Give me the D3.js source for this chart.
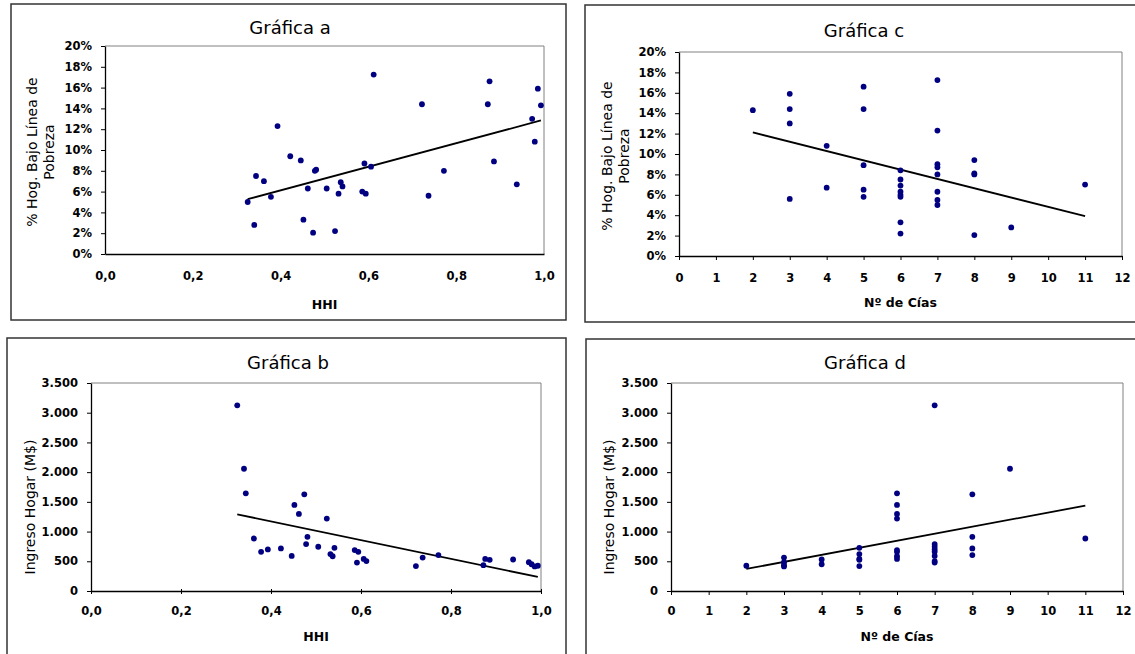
<!DOCTYPE html>
<html>
<head>
<meta charset="utf-8">
<script src="https://cdn.jsdelivr.net/npm/d3@7"></script>
<style>
  body { margin: 0; background: #fff; }
  svg text { font-family: "DejaVu Sans", Verdana, sans-serif; fill: #000; }
</style>
</head>
<body>
<svg id="chart" width="1135" height="654"></svg>
<script>
// one entry per observation (34 comunas)
var hhi = [0.325, 0.340, 0.344, 0.362, 0.378, 0.393, 0.422, 0.446, 0.452, 0.462, 0.474, 0.478,
  0.481, 0.505, 0.524, 0.532, 0.537, 0.541, 0.586, 0.591, 0.594, 0.606, 0.612, 0.722, 0.737,
  0.772, 0.872, 0.876, 0.886, 0.938, 0.973, 0.979, 0.986, 0.993];
var cias = [7, 9, 6, 11, 7, 7, 8, 7, 6, 6, 8, 7, 8, 7, 6, 5, 6, 5, 6, 7, 6, 6, 7, 5, 3, 8, 3, 5, 5,
  4, 3, 4, 3, 2];
var pobreza = [5.0, 2.8, 7.5, 7.0, 5.5, 12.3, 9.4, 9.0, 3.3, 6.3, 2.05, 8.0, 8.1, 6.3, 2.2, 5.8,
  6.9, 6.5, 6.0, 8.7, 5.8, 8.4, 17.25, 14.4, 5.6, 8.0, 14.4, 16.6, 8.9, 6.7, 13.0, 10.8, 15.9, 14.3];
var ingreso = [3125, 2057, 1644, 883, 660, 699, 716, 590, 1448, 1297, 1627, 790, 911, 745, 1219,
  621, 585, 727, 688, 478, 660, 540, 503, 420, 562, 605, 435, 540, 525, 530, 485, 450, 414, 425];

var hhiTicks = [0, 0.2, 0.4, 0.6, 0.8, 1.0];
var ciasTicks = d3.range(0, 13);
var pobTicks = [0, 2, 4, 6, 8, 10, 12, 14, 16, 18, 20];
var ingTicks = [0, 500, 1000, 1500, 2000, 2500, 3000, 3500];

var es = d3.formatLocale({decimal: ",", thousands: ".", grouping: [3], currency: ["$", ""]});
var fmtHHI = es.format(".1f");
var fmtIng = es.format(",");
var fmtPct = (d) => d + "%";

var svg = d3.select("#chart");

function fitLine(xs, ys) {
  var mx = d3.mean(xs), my = d3.mean(ys);
  var sxy = d3.sum(xs, (x, i) => (x - mx) * (ys[i] - my));
  var sxx = d3.sum(xs, (x) => (x - mx) * (x - mx));
  var b = sxy / sxx, a = my - b * mx;
  var x0 = d3.min(xs), x1 = d3.max(xs);
  return [[x0, a + b * x0], [x1, a + b * x1]];
}

function drawPanel(p) {
  var g = svg.append("g");

  g.append("rect")
    .attr("x", p.frame[0]).attr("y", p.frame[1])
    .attr("width", p.frame[2]).attr("height", p.frame[3])
    .attr("fill", "#fff").attr("stroke", "#333").attr("stroke-width", 1.5);

  var x = d3.scaleLinear().domain(p.xDomain).range([p.left, p.right]);
  var y = d3.scaleLinear().domain(p.yDomain).range([p.bottom, p.top]);

  // plot area border (top + right in grey)
  g.append("path")
    .attr("d", `M${p.left},${p.top}H${p.right}V${p.bottom}`)
    .attr("fill", "none").attr("stroke", "#808080").attr("stroke-width", 1);

  var xAxis = d3.axisBottom(x).tickValues(p.xTicks).tickFormat(p.xFmt)
    .tickSizeInner(p.xTickSize).tickSizeOuter(0).tickPadding(p.xPad);
  var gx = g.append("g").attr("transform", `translate(0,${p.bottom})`).call(xAxis);
  if (p.crossTicks) gx.selectAll(".tick line").attr("y1", -2);

  var yAxis = d3.axisLeft(y).tickValues(p.yTicks).tickFormat(p.yFmt)
    .tickSizeInner(4).tickSizeOuter(0).tickPadding(9);
  var gy = g.append("g").attr("transform", `translate(${p.left},0)`).call(yAxis);

  [gx, gy].forEach((a) => {
    a.select(".domain").attr("stroke", "#000").attr("stroke-width", 1.3);
    a.selectAll(".tick line").attr("stroke", "#000");
    a.selectAll(".tick text").attr("font-size", 11.5).attr("font-weight", "bold")
      .attr("font-family", "DejaVu Sans");
  });

  g.append("text")
    .attr("x", p.titleX).attr("y", p.titleY)
    .attr("text-anchor", "middle").attr("font-size", 18)
    .text(p.title);

  g.append("text")
    .attr("x", (p.left + p.right) / 2).attr("y", p.xLabelY)
    .attr("text-anchor", "middle").attr("font-size", 12.5).attr("font-weight", "bold")
    .text(p.xLabel);

  var yl = g.append("text")
    .attr("transform", `translate(${p.yLabelX},${p.yLabelY}) rotate(-90)`)
    .attr("text-anchor", "middle").attr("font-size", 14);
  p.yLabel.forEach((line, i) => {
    yl.append("tspan").attr("x", 0).attr("dy", i ? 17 : 0).text(line);
  });

  var line = fitLine(p.xs, p.ys);
  g.append("path")
    .attr("d", d3.line().x((d) => x(d[0])).y((d) => y(d[1]))(line))
    .attr("stroke", "#000").attr("stroke-width", 1.8).attr("fill", "none");

  g.selectAll("circle")
    .data(p.xs.map((v, i) => [v, p.ys[i]]))
    .join("circle")
    .attr("cx", (d) => x(d[0]))
    .attr("cy", (d) => y(d[1]))
    .attr("r", 2.9)
    .attr("fill", "#000080");
}

drawPanel({
  frame: [11, 4, 555, 316], left: 105, right: 544, top: 46, bottom: 254,
  xDomain: [0, 1], yDomain: [0, 20], xTicks: hhiTicks, yTicks: pobTicks,
  xFmt: fmtHHI, yFmt: fmtPct, xTickSize: 0, xPad: 18,
  title: "Gráfica a", titleX: 290, titleY: 34,
  xLabel: "HHI", xLabelY: 309,
  yLabel: ["% Hog. Bajo Línea de", "Pobreza"], yLabelX: 37, yLabelY: 152,
  xs: hhi, ys: pobreza
});

drawPanel({
  frame: [585, 5, 600, 317], left: 679, right: 1122, top: 52, bottom: 256,
  xDomain: [0, 12], yDomain: [0, 20], xTicks: ciasTicks, yTicks: pobTicks,
  xFmt: d3.format("d"), yFmt: fmtPct, xTickSize: 4, xPad: 14,
  title: "Gráfica c", titleX: 864, titleY: 37,
  xLabel: "Nº de Cías", xLabelY: 307,
  yLabel: ["% Hog. Bajo Línea de", "Pobreza"], yLabelX: 612, yLabelY: 156,
  xs: cias, ys: pobreza
});

drawPanel({
  frame: [7, 338, 559, 400], left: 91, right: 541, top: 383, bottom: 591,
  xDomain: [0, 1], yDomain: [0, 3500], xTicks: hhiTicks, yTicks: ingTicks,
  xFmt: fmtHHI, yFmt: fmtIng, xTickSize: 3, xPad: 13, crossTicks: true,
  title: "Gráfica b", titleX: 288, titleY: 369,
  xLabel: "HHI", xLabelY: 641,
  yLabel: ["Ingreso Hogar (M$)"], yLabelX: 35, yLabelY: 507,
  xs: hhi, ys: ingreso
});

drawPanel({
  frame: [586, 339, 600, 400], left: 671, right: 1123, top: 383, bottom: 591,
  xDomain: [0, 12], yDomain: [0, 3500], xTicks: ciasTicks, yTicks: ingTicks,
  xFmt: d3.format("d"), yFmt: fmtIng, xTickSize: 4, xPad: 12,
  title: "Gráfica d", titleX: 865, titleY: 369,
  xLabel: "Nº de Cías", xLabelY: 641,
  yLabel: ["Ingreso Hogar (M$)"], yLabelX: 614, yLabelY: 507,
  xs: cias, ys: ingreso
});
</script>
</body>
</html>
